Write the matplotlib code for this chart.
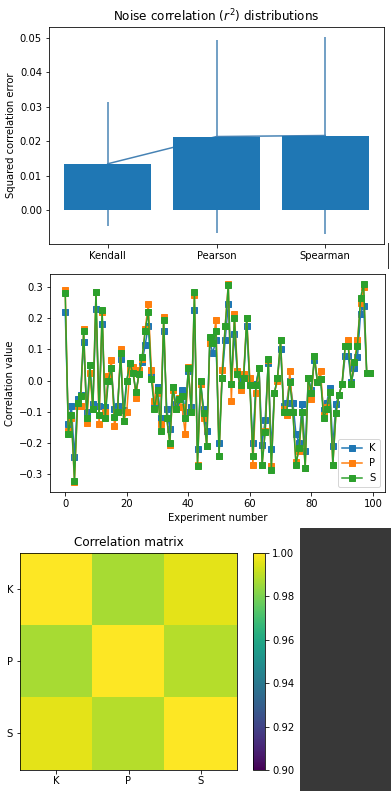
import matplotlib
matplotlib.use("Agg")
import matplotlib.pyplot as plt
import numpy as np
from matplotlib.patches import Rectangle
from matplotlib.lines import Line2D

# ---------------- data ----------------
methods = ["Kendall", "Pearson", "Spearman"]
err_means = [0.0135, 0.0214, 0.0217]
err_stds = [0.0180, 0.0280, 0.0286]

kendall = [0.22, -0.14, -0.08, -0.245, -0.06, -0.045, 0.125, -0.10, 0.05, -0.075,
           0.23, -0.08, 0.18, -0.085, 0.005, 0.04, -0.09, -0.08, 0.07, -0.095,
           0.0, 0.05, 0.03, -0.04, 0.025, 0.06, 0.115, 0.175, 0.015, -0.07,
           -0.02, -0.12, 0.16, -0.09, -0.155, -0.02, -0.075, -0.06, -0.03, -0.10,
           0.03, -0.085, 0.225, -0.22, -0.01, -0.09, -0.16, 0.12, 0.09, 0.13,
           -0.2, 0.01, 0.13, 0.245, -0.01, 0.15, 0.02, 0.0, 0.01, 0.175,
           -0.01, -0.2, -0.01, 0.04, -0.205, -0.125, 0.055, -0.22, -0.04, 0.01,
           0.1, -0.08, -0.07, 0.0, -0.07, -0.17, -0.2, -0.075, -0.225, 0.01,
           -0.03, 0.065, -0.005, 0.005, -0.095, -0.07, -0.025, -0.21, -0.075, -0.045,
           -0.01, 0.08, 0.08, -0.005, 0.04, 0.075, 0.215, 0.24, 0.025, 0.025]
pearson = [0.29, -0.16, -0.12, -0.325, -0.08, -0.08, 0.165, -0.135, 0.025, -0.09,
           0.285, -0.14, 0.22, -0.10, 0.015, 0.065, -0.145, -0.10, 0.10, -0.13,
           -0.10, 0.035, 0.045, -0.055, 0.035, 0.07, 0.165, 0.245, 0.035, -0.065,
           -0.04, -0.14, 0.205, -0.12, -0.205, -0.03, -0.09, -0.055, -0.085, -0.17,
           0.045, -0.10, 0.275, -0.27, -0.01, -0.12, -0.21, 0.12, 0.12, 0.195,
           -0.24, 0.035, 0.175, 0.31, -0.065, 0.215, 0.03, -0.03, 0.02, 0.2,
           0.01, -0.27, -0.04, 0.04, -0.27, -0.16, 0.065, -0.275, -0.04, 0.0,
           0.13, -0.09, -0.11, 0.03, -0.1, -0.26, -0.225, -0.1, -0.28, 0.01,
           -0.06, 0.08, -0.005, 0.03, -0.11, -0.085, -0.035, -0.27, -0.105, -0.045,
           -0.01, 0.11, 0.13, -0.01, 0.06, 0.13, 0.25, 0.3, 0.025, 0.025]
spearman = [0.28, -0.17, -0.11, -0.32, -0.07, -0.05, 0.16, -0.12, 0.05, -0.09,
            0.285, -0.11, 0.225, -0.12, 0.0, 0.04, -0.115, -0.10, 0.09, -0.13,
            0.0, 0.055, 0.025, -0.035, 0.02, 0.075, 0.16, 0.22, 0.005, -0.09,
            -0.03, -0.16, 0.195, -0.12, -0.2, -0.02, -0.09, -0.06, -0.05, -0.12,
            0.04, -0.10, 0.285, -0.275, 0.0, -0.105, -0.21, 0.14, 0.12, 0.16,
            -0.24, 0.01, 0.175, 0.305, -0.01, 0.2, 0.02, -0.015, 0.01, 0.2,
            -0.015, -0.24, -0.015, 0.04, -0.27, -0.165, 0.07, -0.285, -0.04, 0.01,
            0.13, -0.1, -0.1, -0.005, -0.1, -0.27, -0.215, -0.1, -0.28, 0.01,
            -0.04, 0.08, -0.005, 0.005, -0.12, -0.09, -0.035, -0.27, -0.105, -0.045,
            -0.01, 0.11, 0.11, -0.01, 0.06, 0.11, 0.265, 0.31, 0.025, 0.025]
assert len(kendall) == len(pearson) == len(spearman) == 100
series_labels = ["K", "P", "S"]

corr_matrix = [[1.000, 0.987, 0.996],
               [0.987, 1.000, 0.989],
               [0.996, 0.989, 1.000]]
cbar_ticks = [0.90, 0.92, 0.94, 0.96, 0.98, 1.00]

# ---------------- figure ----------------
W, H = 391, 791
dpi = 72
fig = plt.figure(figsize=(W / dpi, H / dpi), dpi=dpi)

def rect(l, t, r, b):
    return [l / W, (H - b) / H, (r - l) / W, (b - t) / H]

# Panel 1: bar chart
ax1 = fig.add_axes(rect(49, 27, 384, 244))
x = np.arange(len(methods))
ax1.errorbar(x, err_means, yerr=err_stds, color="#4682b4", lw=1.5, zorder=1)
ax1.bar(x, err_means, width=0.8, color="#1f77b4", zorder=2)
ax1.set_xticks(x)
ax1.set_xticklabels(methods)
ax1.set_ylabel("Squared correlation error")
ax1.set_title("Noise correlation ($r^2$) distributions")

# Panel 2: line plot
ax2 = fig.add_axes(rect(50, 274, 385, 492))
exp = np.arange(len(kendall))
for vals, lab in zip([kendall, pearson, spearman], series_labels):
    ax2.plot(exp, vals, "s-", label=lab, ms=6)
ax2.set_xlabel("Experiment number")
ax2.set_ylabel("Correlation value")
ax2.legend(loc="lower right")

# Panel 3: heatmap
ax3 = fig.add_axes(rect(20, 552, 237, 770))
im = ax3.imshow(np.array(corr_matrix), cmap="viridis", vmin=0.9, vmax=1.0)
ax3.set_xticks(range(3))
ax3.set_xticklabels(series_labels)
ax3.set_yticks(range(3))
ax3.set_yticklabels(series_labels)
ax3.set_title("Correlation matrix")
cax = fig.add_axes(rect(253, 553, 265, 770))
cb = fig.colorbar(im, cax=cax, ticks=cbar_ticks)
cb.ax.set_yticklabels([f"{t:.2f}" for t in cbar_ticks])

# screenshot decorations
fig.patches.append(Rectangle((300 / W, 0), 91 / W, (H - 528) / H,
                             transform=fig.transFigure, color="#383838", zorder=0))
fig.lines.append(Line2D([388 / W, 388 / W], [(H - 243) / H, (H - 268) / H],
                        transform=fig.transFigure, color="#333333", lw=1))

fig.savefig("out.png", dpi=dpi)
